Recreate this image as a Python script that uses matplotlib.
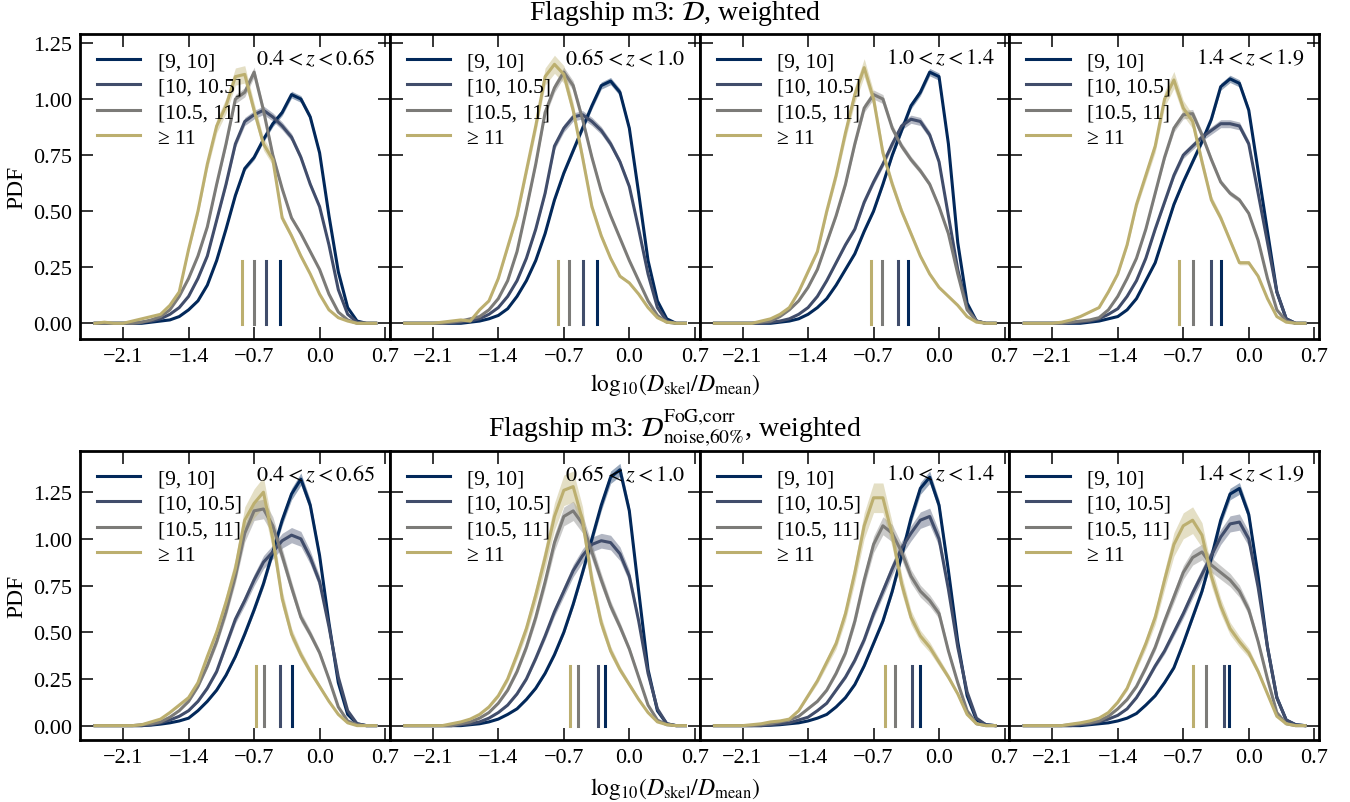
import numpy as np
import matplotlib
matplotlib.use('Agg')
import matplotlib.pyplot as plt
from matplotlib.ticker import FuncFormatter

plt.rcParams['font.family'] = ['Liberation Serif', 'DejaVu Serif']
plt.rcParams['mathtext.fontset'] = 'stix'

# --- bin centres of log10(D_skel / D_mean) ---
LOG_D = np.linspace(-2.4, 0.6, 31)

MASS_LABELS = ['[9, 10]', '[10, 10.5]', '[10.5, 11]', '\u2265 11']
COLORS = ['#02285a', '#414d6b', '#7c7b78', '#bcaf6f']
Z_LABELS = ['$0.4 < z < 0.65$', '$0.65 < z < 1.0$', '$1.0 < z < 1.4$', '$1.4 < z < 1.9$']

# --- top row: Flagship m3, D, weighted (rows: [9,10], [10,10.5], [10.5,11], >=11) ---
TOP_P1 = [
    [0, 0, 0, 0, 0, 0, 0.005, 0.01, 0.015, 0.03, 0.06, 0.10, 0.17, 0.28, 0.42, 0.57, 0.69, 0.74, 0.82, 0.89, 0.94, 1.02, 1.00, 0.92, 0.76, 0.48, 0.23, 0.07, 0.01, 0, 0],
    [0, 0, 0, 0, 0, 0.005, 0.01, 0.02, 0.04, 0.07, 0.12, 0.20, 0.30, 0.46, 0.62, 0.80, 0.90, 0.93, 0.95, 0.92, 0.88, 0.83, 0.74, 0.62, 0.52, 0.35, 0.15, 0.04, 0.005, 0, 0],
    [0, 0, 0, 0, 0, 0.005, 0.015, 0.03, 0.06, 0.12, 0.20, 0.30, 0.43, 0.62, 0.80, 1.00, 1.03, 1.12, 0.95, 0.75, 0.60, 0.47, 0.40, 0.32, 0.24, 0.13, 0.05, 0.015, 0, 0, 0],
    [0, 0.005, 0, 0, 0.01, 0.02, 0.03, 0.04, 0.08, 0.14, 0.33, 0.50, 0.71, 0.88, 0.97, 1.10, 1.11, 0.95, 0.80, 0.73, 0.47, 0.39, 0.30, 0.22, 0.13, 0.06, 0.025, 0.01, 0, 0, 0],
]
TOP_P2 = [
    [0, 0, 0, 0, 0, 0, 0, 0.005, 0.01, 0.02, 0.035, 0.065, 0.12, 0.19, 0.28, 0.40, 0.55, 0.67, 0.77, 0.87, 0.97, 1.06, 1.08, 1.03, 0.87, 0.58, 0.28, 0.10, 0.02, 0, 0],
    [0, 0, 0, 0, 0, 0.003, 0.005, 0.01, 0.02, 0.04, 0.07, 0.12, 0.19, 0.29, 0.42, 0.58, 0.79, 0.87, 0.92, 0.93, 0.90, 0.86, 0.80, 0.72, 0.61, 0.42, 0.22, 0.07, 0.01, 0, 0],
    [0, 0, 0, 0, 0, 0.005, 0.01, 0.02, 0.03, 0.06, 0.11, 0.19, 0.32, 0.51, 0.71, 0.94, 1.05, 1.12, 1.06, 0.91, 0.74, 0.59, 0.48, 0.38, 0.28, 0.19, 0.10, 0.035, 0.005, 0, 0],
    [0, 0, 0, 0, 0.005, 0.01, 0.015, 0.01, 0.06, 0.10, 0.20, 0.34, 0.48, 0.68, 0.88, 1.10, 1.155, 1.11, 0.95, 0.74, 0.52, 0.39, 0.29, 0.21, 0.18, 0.13, 0.07, 0.025, 0.005, 0, 0],
]
TOP_P3 = [
    [0, 0, 0, 0, 0, 0, 0, 0.005, 0.01, 0.02, 0.04, 0.07, 0.11, 0.17, 0.24, 0.31, 0.41, 0.50, 0.62, 0.75, 0.86, 0.97, 1.03, 1.12, 1.10, 0.80, 0.36, 0.09, 0.01, 0, 0],
    [0, 0, 0, 0, 0, 0, 0.005, 0.01, 0.02, 0.04, 0.07, 0.12, 0.19, 0.27, 0.35, 0.42, 0.54, 0.63, 0.71, 0.80, 0.88, 0.91, 0.90, 0.84, 0.72, 0.48, 0.24, 0.07, 0.01, 0, 0],
    [0, 0, 0, 0, 0, 0.005, 0.01, 0.03, 0.06, 0.10, 0.16, 0.24, 0.36, 0.48, 0.62, 0.80, 0.96, 1.02, 1.00, 0.87, 0.79, 0.73, 0.68, 0.62, 0.52, 0.40, 0.22, 0.06, 0.01, 0, 0],
    [0, 0, 0, 0, 0, 0.01, 0.02, 0.04, 0.07, 0.14, 0.23, 0.32, 0.50, 0.66, 0.85, 1.02, 1.14, 1.00, 0.76, 0.62, 0.50, 0.40, 0.30, 0.22, 0.16, 0.12, 0.08, 0.03, 0.005, 0, 0],
]
TOP_P4 = [
    [0, 0, 0, 0, 0, 0, 0, 0.005, 0.01, 0.02, 0.03, 0.06, 0.11, 0.19, 0.27, 0.40, 0.53, 0.63, 0.72, 0.81, 0.91, 1.055, 1.09, 1.07, 0.95, 0.68, 0.41, 0.14, 0.02, 0, 0],
    [0, 0, 0, 0, 0, 0.003, 0.005, 0.01, 0.02, 0.04, 0.065, 0.12, 0.19, 0.29, 0.42, 0.54, 0.66, 0.75, 0.79, 0.83, 0.86, 0.89, 0.89, 0.88, 0.80, 0.58, 0.36, 0.14, 0.02, 0, 0],
    [0, 0, 0, 0, 0, 0.005, 0.01, 0.015, 0.025, 0.06, 0.12, 0.20, 0.29, 0.42, 0.58, 0.74, 0.87, 0.93, 0.935, 0.84, 0.73, 0.63, 0.58, 0.55, 0.49, 0.37, 0.20, 0.06, 0.01, 0, 0],
    [0, 0, 0, 0, 0.005, 0.015, 0.03, 0.05, 0.07, 0.14, 0.22, 0.35, 0.53, 0.66, 0.79, 1.00, 1.085, 0.96, 0.90, 0.72, 0.55, 0.47, 0.37, 0.27, 0.27, 0.21, 0.11, 0.03, 0.005, 0, 0],
]

# --- bottom row: Flagship m3, D^FoG,corr_noise,60%, weighted ---
BOT_P1 = [
    [0, 0, 0, 0, 0, 0, 0.003, 0.008, 0.015, 0.025, 0.04, 0.08, 0.13, 0.19, 0.27, 0.37, 0.49, 0.62, 0.76, 0.93, 1.10, 1.24, 1.32, 1.18, 0.91, 0.55, 0.23, 0.06, 0.01, 0, 0],
    [0, 0, 0, 0, 0, 0, 0.005, 0.015, 0.03, 0.05, 0.08, 0.13, 0.20, 0.29, 0.43, 0.57, 0.67, 0.78, 0.875, 0.93, 0.99, 1.02, 1.00, 0.90, 0.77, 0.53, 0.26, 0.08, 0.01, 0, 0],
    [0, 0, 0, 0, 0, 0.005, 0.01, 0.02, 0.045, 0.08, 0.13, 0.21, 0.32, 0.45, 0.61, 0.80, 1.03, 1.15, 1.16, 1.07, 0.91, 0.74, 0.58, 0.49, 0.39, 0.25, 0.10, 0.025, 0.005, 0, 0],
    [0, 0, 0, 0, 0, 0.005, 0.02, 0.035, 0.07, 0.11, 0.15, 0.23, 0.37, 0.50, 0.66, 0.84, 1.10, 1.19, 1.25, 1.00, 0.68, 0.49, 0.38, 0.29, 0.21, 0.13, 0.06, 0.015, 0, 0, 0],
]
BOT_P2 = [
    [0, 0, 0, 0, 0, 0, 0, 0.005, 0.01, 0.02, 0.035, 0.06, 0.09, 0.14, 0.20, 0.28, 0.38, 0.50, 0.65, 0.82, 1.00, 1.18, 1.33, 1.37, 1.15, 0.72, 0.30, 0.08, 0.01, 0, 0],
    [0, 0, 0, 0, 0, 0, 0.005, 0.01, 0.02, 0.04, 0.07, 0.11, 0.17, 0.25, 0.36, 0.48, 0.61, 0.72, 0.83, 0.91, 0.97, 0.99, 0.98, 0.92, 0.80, 0.56, 0.28, 0.09, 0.01, 0, 0],
    [0, 0, 0, 0, 0, 0, 0.01, 0.02, 0.04, 0.07, 0.12, 0.19, 0.29, 0.42, 0.58, 0.77, 0.98, 1.12, 1.15, 1.08, 0.93, 0.78, 0.64, 0.53, 0.41, 0.26, 0.11, 0.03, 0.005, 0, 0],
    [0, 0, 0, 0, 0, 0.01, 0.02, 0.035, 0.06, 0.10, 0.16, 0.25, 0.38, 0.52, 0.70, 0.90, 1.12, 1.26, 1.28, 1.10, 0.78, 0.55, 0.40, 0.30, 0.22, 0.14, 0.07, 0.02, 0.005, 0, 0],
]
BOT_P3 = [
    [0, 0, 0, 0, 0, 0, 0.002, 0.005, 0.01, 0.015, 0.025, 0.04, 0.06, 0.10, 0.15, 0.22, 0.32, 0.44, 0.56, 0.72, 0.91, 1.11, 1.27, 1.33, 1.18, 0.83, 0.45, 0.16, 0.03, 0.005, 0],
    [0, 0, 0, 0, 0, 0, 0.005, 0.01, 0.015, 0.03, 0.045, 0.08, 0.12, 0.19, 0.26, 0.35, 0.46, 0.60, 0.72, 0.84, 0.95, 1.03, 1.10, 1.12, 1.00, 0.73, 0.42, 0.18, 0.04, 0.005, 0],
    [0, 0, 0, 0, 0, 0.005, 0.01, 0.02, 0.03, 0.05, 0.09, 0.13, 0.19, 0.28, 0.39, 0.56, 0.78, 0.97, 1.07, 1.03, 0.93, 0.80, 0.72, 0.67, 0.60, 0.40, 0.23, 0.08, 0.01, 0, 0],
    [0, 0, 0, 0, 0.005, 0.01, 0.02, 0.025, 0.035, 0.08, 0.16, 0.24, 0.34, 0.44, 0.60, 0.82, 1.07, 1.22, 1.22, 1.02, 0.76, 0.58, 0.48, 0.42, 0.34, 0.26, 0.17, 0.06, 0.01, 0, 0],
]
BOT_P4 = [
    [0, 0, 0, 0, 0, 0, 0, 0.005, 0.01, 0.015, 0.025, 0.04, 0.065, 0.11, 0.16, 0.23, 0.31, 0.44, 0.58, 0.72, 0.90, 1.10, 1.24, 1.27, 1.13, 0.80, 0.42, 0.15, 0.03, 0.005, 0],
    [0, 0, 0, 0, 0, 0, 0.005, 0.01, 0.02, 0.035, 0.055, 0.09, 0.15, 0.23, 0.32, 0.40, 0.50, 0.60, 0.71, 0.81, 0.91, 1.01, 1.08, 1.09, 1.00, 0.74, 0.42, 0.15, 0.03, 0.005, 0],
    [0, 0, 0, 0, 0, 0.005, 0.01, 0.015, 0.025, 0.05, 0.09, 0.14, 0.21, 0.31, 0.42, 0.56, 0.69, 0.82, 0.90, 0.93, 0.86, 0.82, 0.78, 0.72, 0.62, 0.45, 0.25, 0.07, 0.01, 0, 0],
    [0, 0, 0, 0, 0, 0.008, 0.015, 0.025, 0.04, 0.07, 0.125, 0.20, 0.32, 0.44, 0.58, 0.78, 0.97, 1.07, 1.10, 1.02, 0.80, 0.64, 0.52, 0.45, 0.39, 0.29, 0.17, 0.05, 0.01, 0, 0],
]

# median positions (the short vertical markers), per panel: [9,10], [10,10.5], [10.5,11], >=11
TOP_MEDIANS = [
    [-0.42, -0.57, -0.70, -0.83],
    [-0.35, -0.50, -0.65, -0.76],
    [-0.33, -0.44, -0.61, -0.73],
    [-0.30, -0.40, -0.60, -0.75],
]
BOT_MEDIANS = [
    [-0.29, -0.42, -0.59, -0.68],
    [-0.26, -0.33, -0.55, -0.63],
    [-0.20, -0.285, -0.47, -0.58],
    [-0.21, -0.27, -0.46, -0.60],
]

# relative half-width of the shaded uncertainty bands, per mass bin
TOP_BAND = [0.015, 0.02, 0.02, 0.035]
BOT_BAND = [0.025, 0.04, 0.045, 0.065]


def fmt(decimals):
    return FuncFormatter(lambda v, pos: f'{v:.{decimals}f}'.replace('-', '\u2212'))


def draw_row(gs, panels, medians, band, ylim):
    axes = []
    for i, (curves, meds) in enumerate(zip(panels, medians)):
        ax = fig.add_subplot(gs[0, i])
        for y, c, f, lab, m in zip(curves, COLORS, band, MASS_LABELS, meds):
            y = np.array(y)
            ax.fill_between(LOG_D, y * (1 - f), y * (1 + f), color=c, alpha=0.4, lw=0)
            ax.plot(LOG_D, y, color=c, lw=2.2, label=lab)
            ax.axvline(m, ymin=0.05, ymax=0.255, color=c, lw=2.2)
        ax.set_xlim(-2.56, 0.75)
        ax.set_ylim(*ylim)
        ax.set_xticks([-2.1, -1.4, -0.7, 0.0, 0.7])
        ax.set_yticks([0, 0.25, 0.5, 0.75, 1.0, 1.25])
        ax.tick_params(direction='in', top=True, right=True, length=9, width=1.1,
                       labelsize=16, pad=6)
        for s in ax.spines.values():
            s.set_linewidth(2)
        if i == 0:
            ax.yaxis.set_major_formatter(fmt(2))
            ax.set_ylabel('PDF', fontsize=17)
        else:
            ax.set_yticklabels([])
        ax.xaxis.set_major_formatter(fmt(1))
        ax.legend(loc='upper left', frameon=False, fontsize=15.5, labelspacing=0.25,
                  handlelength=2.0, handletextpad=0.8, borderaxespad=0.4)
        ax.text(0.955, 0.92, Z_LABELS[i], transform=ax.transAxes, ha='right',
                va='center', fontsize=16)
        axes.append(ax)
    return axes


fig = plt.figure(figsize=(13.5, 8.03), dpi=100)
gs_top = fig.add_gridspec(1, 4, left=0.0593, right=0.977, bottom=0.5766, top=0.9564, wspace=0)
gs_bot = fig.add_gridspec(1, 4, left=0.0593, right=0.977, bottom=0.0772, top=0.437, wspace=0)

draw_row(gs_top, [TOP_P1, TOP_P2, TOP_P3, TOP_P4], TOP_MEDIANS, TOP_BAND, (-0.07, 1.29))
draw_row(gs_bot, [BOT_P1, BOT_P2, BOT_P3, BOT_P4], BOT_MEDIANS, BOT_BAND, (-0.077, 1.47))

xlab = r'$\mathrm{log}_{10}(D_{\rm skel}/D_{\rm mean})$'
fig.text(0.5, 1 - 385 / 803, xlab, ha='center', va='center', fontsize=17)
fig.text(0.5, 1 - 789 / 803, xlab, ha='center', va='center', fontsize=17)
fig.text(0.5, 1 - 14 / 803, r'Flagship m3: $\mathcal{D}$, weighted',
         ha='center', va='center', fontsize=20)
fig.text(0.5, 1 - 428 / 803,
         r'Flagship m3: $\mathcal{D}^{\text{FoG,corr}}_{\text{noise,60\%}}$, weighted',
         ha='center', va='center', fontsize=20)

fig.savefig('out.png', dpi=100)
